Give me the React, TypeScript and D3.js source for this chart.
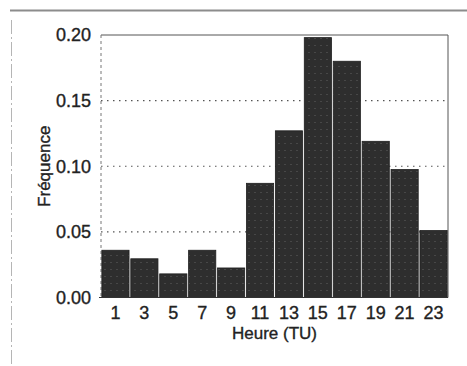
import React from "react";
import * as d3 from "d3";

const hours = ["1", "3", "5", "7", "9", "11", "13", "15", "17", "19", "21", "23"];
const freq = [0.036, 0.0295, 0.018, 0.036, 0.0225, 0.087, 0.127, 0.198, 0.180, 0.119, 0.0975, 0.051];
const yTicks = [0, 0.05, 0.1, 0.15, 0.2];
const gridTicks = [0.05, 0.1, 0.15];

const W = 467;
const H = 366;
const M = { left: 101, right: 448, top: 35, bottom: 297.5 };
const FONT = "'Liberation Sans', Arial, Helvetica, sans-serif";

export default function App() {
  const x = d3.scaleBand<string>().domain(hours).range([M.left, M.right]).paddingInner(0.06).paddingOuter(0.03);
  const y = d3.scaleLinear().domain([0, 0.2]).range([M.bottom, M.top]);
  const txt = { fontFamily: FONT, fill: "#222", stroke: "#222", strokeWidth: 0.35 };
  return (
    <svg width={W} height={H} style={{ position: "absolute", left: 0, top: 0, background: "#fff" }}>
      <defs>
        <pattern id="dots" width="6" height="7" patternUnits="userSpaceOnUse">
          <rect width="6" height="7" fill="#2e2e2e" />
          <circle cx="3" cy="3.5" r="0.6" fill="#8a8a8a" opacity="0.6" />
        </pattern>
      </defs>
      {/* scan frame lines */}
      <line x1={10} x2={467} y1={10.5} y2={10.5} stroke="#8c8c8c" strokeWidth={2} />
      <line x1={11.5} x2={11.5} y1={20} y2={366} stroke="#b5b5b5" strokeWidth={1} strokeDasharray="14 3 2 3" />
      {/* plot frame */}
      <line x1={M.left} x2={M.right} y1={M.top} y2={M.top} stroke="#555" strokeWidth={1} />
      <line x1={M.right} x2={M.right} y1={M.top} y2={M.bottom} stroke="#555" strokeWidth={1} />
      <line x1={M.left} x2={M.left} y1={M.top} y2={M.bottom} stroke="#777" strokeWidth={1} strokeDasharray="3 3" />
      {/* grid */}
      {gridTicks.map((t) => (
        <line key={t} x1={M.left} x2={M.right} y1={y(t)} y2={y(t)} stroke="#555" strokeWidth={1.2} strokeDasharray="1.5 4.5" />
      ))}
      {/* bars */}
      {hours.map((h, i) => (
        <rect key={h} x={x(h)!} y={y(freq[i])} width={x.bandwidth()} height={y(0) - y(freq[i])} fill="url(#dots)" stroke="#1e1e1e" strokeWidth={0.8} />
      ))}
      {/* baseline */}
      <line x1={M.left - 2} x2={M.right} y1={M.bottom} y2={M.bottom} stroke="#333" strokeWidth={1} />
      {/* y tick labels */}
      {yTicks.map((t) => (
        <text key={t} x={M.left - 10} y={y(t)} dy="0.36em" textAnchor="end" fontSize={18} {...txt}>
          {t.toFixed(2)}
        </text>
      ))}
      {/* x tick labels */}
      {hours.map((h) => (
        <text key={h} x={x(h)! + x.bandwidth() / 2} y={319} textAnchor="middle" fontSize={18} {...txt}>
          {h}
        </text>
      ))}
      <text x={(M.left + M.right) / 2} y={339} textAnchor="middle" fontSize={17} {...txt}>
        Heure (TU)
      </text>
      <text transform={`translate(50,${(M.top + M.bottom) / 2}) rotate(-90)`} textAnchor="middle" fontSize={17} {...txt}>
        Fréquence
      </text>
    </svg>
  );
}
